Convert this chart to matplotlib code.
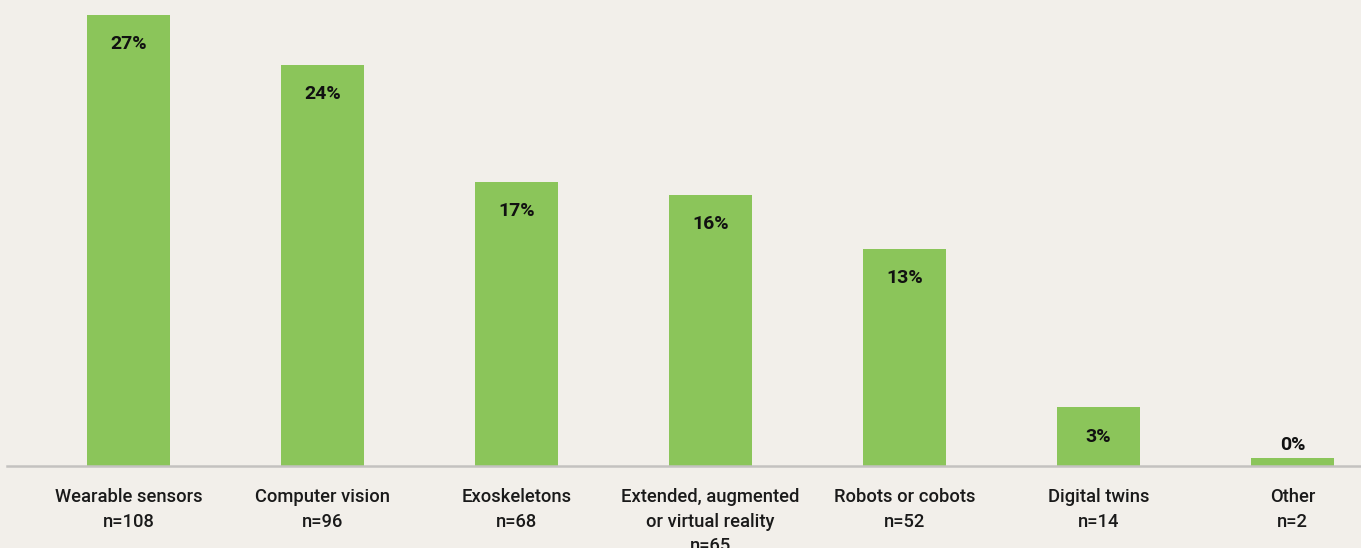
import matplotlib.pyplot as plt

# share of responses per technology (%), and respondent counts
categories = ["Wearable sensors", "Computer vision", "Exoskeletons",
              "Extended, augmented\nor virtual reality", "Robots or cobots",
              "Digital twins", "Other"]
counts = [108, 96, 68, 65, 52, 14, 2]
shares = [26.67, 23.70, 16.79, 16.05, 12.84, 3.46, 0.49]

bg = "#F2EFEA"
green = "#8BC55A"

plt.rcParams['font.family'] = ['Roboto', 'DejaVu Sans']

fig = plt.figure(figsize=(13.61, 5.48), dpi=100, facecolor=bg)
ax = fig.add_axes([7 / 1361, 82 / 548, 1 - 7 / 1361, 466 / 548])
ax.set_facecolor(bg)

x = list(range(len(categories)))
ax.bar(x, shares, width=0.43, color=green, zorder=2)

ax.set_xlim(-0.626, 6.353)
ax.set_ylim(0, 27.56)

for i, v in zip(x, shares):
    label = f"{round(v)}%"
    # labels go inside the bar unless it is too short
    dy = -21 if v > 2 else 9.5
    ax.annotate(label, (i, v), xytext=(0, dy), textcoords="offset points",
                ha="center", va="center", fontsize=14,
                fontweight="bold", color="#111111")

ax.set_xticks(x)
ax.set_xticklabels([f"{c}\nn={n}" for c, n in zip(categories, counts)],
                   fontsize=13.2, fontweight="medium", color="#1a1a1a",
                   linespacing=1.45, va="top")
ax.tick_params(axis="x", length=0, pad=16)
ax.set_yticks([])

for s in ["top", "right", "left"]:
    ax.spines[s].set_visible(False)
ax.spines["bottom"].set_color("#C4C2C0")
ax.spines["bottom"].set_linewidth(1.8)

fig.savefig("out.png", dpi=100, facecolor=bg)
